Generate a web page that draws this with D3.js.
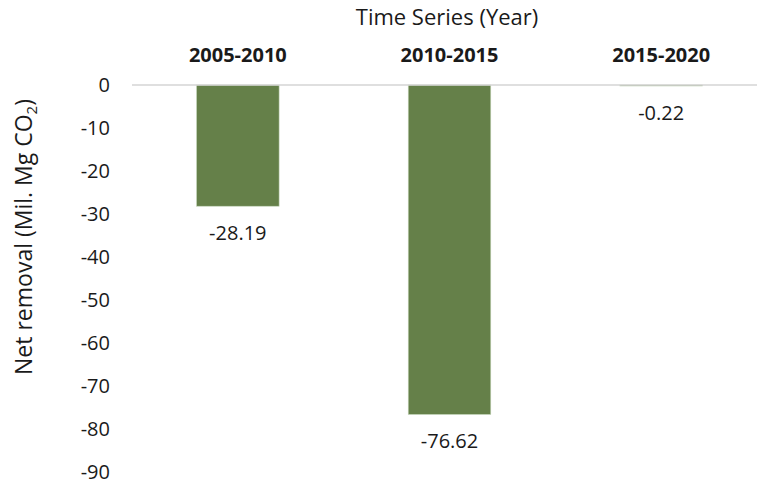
<!DOCTYPE html>
<html>
<head>
<meta charset="utf-8">
<script src="https://cdn.jsdelivr.net/npm/d3@7"></script>
<style>
  body { margin: 0; background: #fff; }
  text { font-family: "Open Sans", sans-serif; fill: #1a1a1a; }
</style>
</head>
<body>
<div id="chart"></div>
<script>
// data
const periods = ['2005-2010', '2010-2015', '2015-2020'];
const netRemoval = [-28.19, -76.62, -0.22];
const yTicks = [0, -10, -20, -30, -40, -50, -60, -70, -80, -90];

const width = 757, height = 484;
const svg = d3.select('#chart').append('svg')
  .attr('width', width)
  .attr('height', height);

const x = d3.scaleBand()
  .domain(periods)
  .range([132, 767])
  .paddingInner(0.61)
  .paddingOuter(0.305);

const y = d3.scaleLinear()
  .domain([-90, 0])
  .range([472, 85]);

// tick labels (no axis line)
const yAxis = d3.axisLeft(y).tickValues(yTicks).tickSize(0).tickPadding(0)
  .tickFormat(d => String(d));
const gy = svg.append('g')
  .attr('transform', 'translate(110,0)')
  .call(yAxis);
gy.select('.domain').remove();
gy.selectAll('text')
  .style('font-family', '"Open Sans", sans-serif')
  .style('font-size', '20px')
  .attr('fill', '#1a1a1a');

// bars
svg.selectAll('rect.bar')
  .data(netRemoval)
  .join('rect')
  .attr('class', 'bar')
  .attr('x', (d, i) => x(periods[i]))
  .attr('width', x.bandwidth())
  .attr('y', y(0))
  .attr('height', d => Math.max(1, y(d) - y(0)))
  .attr('fill', '#658049')
  .attr('stroke', '#c6d6bb')
  .attr('stroke-width', 0.6);

// zero line
svg.append('line')
  .attr('x1', 132).attr('x2', width)
  .attr('y1', y(0)).attr('y2', y(0))
  .attr('stroke', '#d4d4d4')
  .attr('stroke-width', 1.5);

// value labels
svg.selectAll('text.val')
  .data(netRemoval)
  .join('text')
  .attr('class', 'val')
  .attr('x', (d, i) => x(periods[i]) + x.bandwidth() / 2)
  .attr('y', d => y(d) + 34)
  .attr('text-anchor', 'middle')
  .style('font-size', '20px')
  .text(d => d.toFixed(2));

// category labels on top
const xAxis = d3.axisTop(x).tickSize(0).tickPadding(0);
const gx = svg.append('g')
  .attr('transform', 'translate(0,62)')
  .call(xAxis);
gx.select('.domain').remove();
gx.selectAll('text')
  .style('font-family', '"Open Sans", sans-serif')
  .style('font-size', '20px')
  .style('font-weight', 'bold')
  .attr('fill', '#1a1a1a');

// top title
svg.append('text')
  .attr('x', 447)
  .attr('y', 25)
  .attr('text-anchor', 'middle')
  .style('font-size', '22px')
  .text('Time Series (Year)');

// y title
const yt = svg.append('text')
  .attr('transform', 'translate(32,237) rotate(-90)')
  .attr('text-anchor', 'middle')
  .style('font-size', '23px');
yt.append('tspan').text('Net removal (Mil. Mg CO');
yt.append('tspan').attr('dy', 5).style('font-size', '15px').text('2');
yt.append('tspan').attr('dy', -5).text(')');
</script>
</body>
</html>
